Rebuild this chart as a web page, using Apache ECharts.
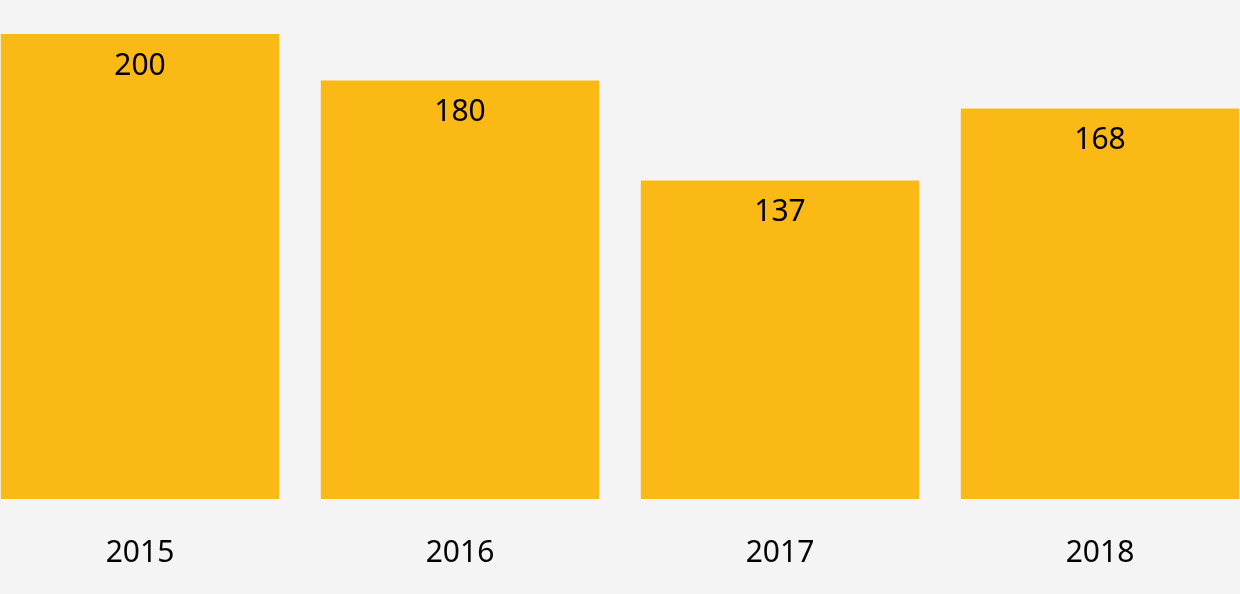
<!DOCTYPE html>
<html>
<head>
<meta charset="utf-8">
<script src="https://cdn.jsdelivr.net/npm/echarts@6/dist/echarts.min.js"></script>
<style>
  html, body { margin: 0; padding: 0; background: #f4f4f4; overflow: hidden; }
  /* plot runs a bit past both edges, as in the reference */
  #chart { width: 1280px; height: 594px; margin-left: -20px; }
</style>
</head>
<body>
<div id="chart"></div>
<script>
const years = ['2015', '2016', '2017', '2018']
const values = [200, 180, 137, 168]

const chart = echarts.init(document.getElementById('chart'))
chart.setOption({
  backgroundColor: '#f4f4f4',
  animation: false,
  grid: { left: 0, right: 0, top: 34, bottom: 95 },
  xAxis: {
    type: 'category',
    data: years,
    axisLine: { show: false },
    axisTick: { show: false },
    axisLabel: {
      margin: 39,
      fontFamily: 'Noto Sans',
      fontSize: 30,
      color: '#000'
    }
  },
  yAxis: {
    type: 'value',
    min: 0,
    max: 200,
    show: false,
    splitLine: { show: false }
  },
  series: [
    {
      type: 'bar',
      data: values,
      barCategoryGap: '13%',
      itemStyle: { color: '#fbb916' },
      label: {
        show: true,
        position: 'insideTop',
        distance: 17,
        fontFamily: 'Noto Sans',
        fontSize: 30,
        color: '#000'
      }
    }
  ]
})
</script>
</body>
</html>
